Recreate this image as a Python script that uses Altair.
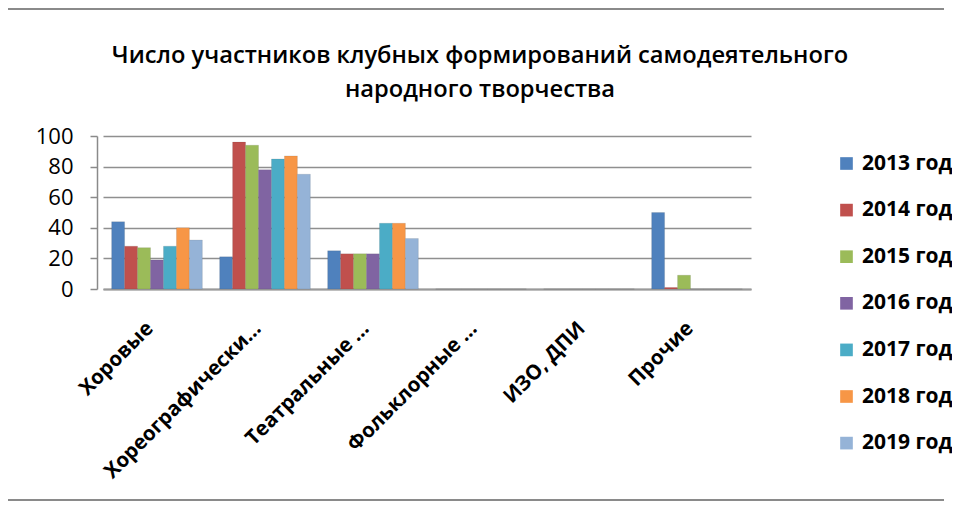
import altair as alt
import pandas as pd

categories = ["Хоровые", "Хореографически…", "Театральные …", "Фольклорные …", "ИЗО, ДПИ", "Прочие"]
years = ["2013 год", "2014 год", "2015 год", "2016 год", "2017 год", "2018 год", "2019 год"]
values = {
    "2013 год": [44, 21, 25, 0, 0, 50],
    "2014 год": [28, 96, 23, 0, 0, 1],
    "2015 год": [27, 94, 23, 0, 0, 9],
    "2016 год": [19, 78, 23, 0, 0, 0],
    "2017 год": [28, 85, 43, 0, 0, 0],
    "2018 год": [40, 87, 43, 0, 0, 0],
    "2019 год": [32, 75, 33, 0, 0, 0],
}
colors = ["#4F81BD", "#C0504D", "#9BBB59", "#8064A2", "#4BACC6", "#F79646", "#95B3D7"]
title_lines = ["Число участников клубных формирований самодеятельного", "народного творчества"]

rows = []
for y in years:
    for c, v in zip(categories, values[y]):
        rows.append({"cat": c, "year": y, "value": v})
df = pd.DataFrame(rows)

FONT = "Open Sans"

bars = alt.Chart(df).mark_bar(stroke="#3d3d3d", strokeWidth=0.3, strokeOpacity=0.4).encode(
    x=alt.X("cat:N", sort=categories, title=None,
            scale=alt.Scale(paddingInner=0.16, paddingOuter=0.08),
            axis=alt.Axis(labelAngle=-45, labelAlign="right", labelBaseline="middle",
                          labelPadding=36, labelOffset=-7, labelFont=FONT, labelFontSize=20.5,
                          labelFontWeight="bold", labelColor="#000000",
                          ticks=False, domainColor="#9a9a9a", domainWidth=2,
                          labelLimit=400)),
    xOffset=alt.XOffset("year:N", sort=years),
    y=alt.Y("value:Q", title=None,
            scale=alt.Scale(domain=[0, 100], nice=False),
            axis=alt.Axis(values=[0, 20, 40, 60, 80, 100], labelFont=FONT, labelFontSize=22,
                          labelColor="#000000", labelPadding=17, tickSize=7,
                          tickColor="#8a8a8a", tickWidth=1.5, domainColor="#8a8a8a",
                          domainWidth=1.5, offset=6, gridColor="#8f8f8f", gridWidth=1.6)),
    color=alt.Color("year:N", sort=years, title=None,
                    scale=alt.Scale(domain=years, range=colors),
                    legend=alt.Legend(orient="none", legendX=733, legendY=17,
                                      symbolType="square", symbolSize=160,
                                      symbolStrokeWidth=0, labelFont=FONT,
                                      labelFontSize=21, labelFontWeight="bold",
                                      labelColor="#000000", rowPadding=24.6,
                                      labelOffset=5)),
)

title_df = pd.DataFrame({"text": title_lines, "line": [0, 1]})
title1 = alt.Chart(title_df.iloc[[0]]).mark_text(
    font=FONT, fontSize=23.7, fontWeight=600, color="#000000", align="center",
    baseline="alphabetic").encode(text="text:N", x=alt.value(377), y=alt.value(-73))
title2 = alt.Chart(title_df.iloc[[1]]).mark_text(
    font=FONT, fontSize=23.7, fontWeight=600, color="#000000", align="center",
    baseline="alphabetic").encode(text="text:N", x=alt.value(377), y=alt.value(-39))

border_top = alt.Chart(pd.DataFrame({"a": [0]})).mark_rule(color="#8a8a8a", strokeWidth=2).encode(
    x=alt.value(-95), x2=alt.value(841), y=alt.value(-127))
border_bottom = alt.Chart(pd.DataFrame({"a": [0]})).mark_rule(color="#8a8a8a", strokeWidth=2).encode(
    x=alt.value(-95), x2=alt.value(841), y=alt.value(364))

chart = alt.layer(bars, title1, title2, border_top, border_bottom).properties(
    width=648, height=153,
    autosize=alt.AutoSizeParams(type="none"),
    padding={"left": 95, "top": 128, "right": 201, "bottom": 213},
).configure_view(stroke=None)

chart.save("out.html", embed_options={"renderer": "svg", "actions": False})
